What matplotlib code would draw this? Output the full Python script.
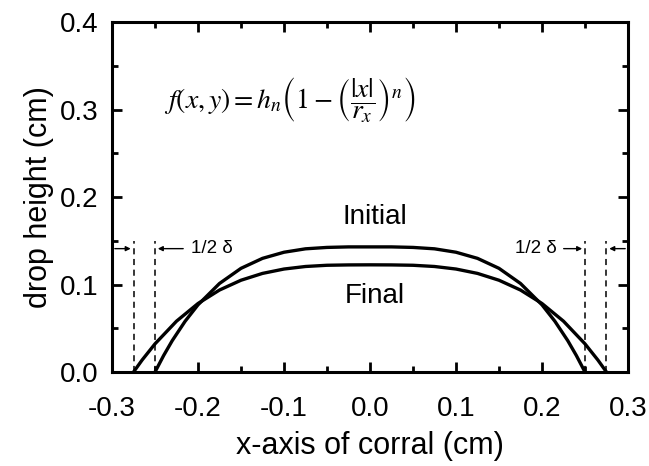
import matplotlib
matplotlib.use('Agg')
import matplotlib.pyplot as plt
from matplotlib.ticker import MultipleLocator

plt.rcParams['font.family'] = ['Liberation Sans', 'DejaVu Sans']
plt.rcParams['mathtext.fontset'] = 'stix'

# curve points (cm)
x_init = [-0.25, -0.24, -0.23, -0.215, -0.2, -0.175, -0.15, -0.125, -0.1, -0.075, -0.05, -0.025,
          0.0, 0.025, 0.05, 0.075, 0.1, 0.125, 0.15, 0.175, 0.2, 0.215, 0.23, 0.24, 0.25]
y_init = [0.0, 0.0188, 0.0358, 0.058, 0.0768, 0.1012, 0.1185, 0.1299, 0.1369, 0.1408, 0.1424, 0.143,
          0.143, 0.143, 0.1424, 0.1408, 0.1369, 0.1299, 0.1185, 0.1012, 0.0768, 0.058, 0.0358, 0.0188, 0.0]

x_final = [-0.275, -0.265, -0.25, -0.225, -0.2, -0.175, -0.15, -0.125, -0.1, -0.075, -0.05, -0.025,
           0.0, 0.025, 0.05, 0.075, 0.1, 0.125, 0.15, 0.175, 0.2, 0.225, 0.25, 0.265, 0.275]
y_final = [0.0, 0.0137, 0.0322, 0.0581, 0.0783, 0.0937, 0.1049, 0.1127, 0.1177, 0.1206, 0.122, 0.1224,
           0.1225, 0.1224, 0.122, 0.1206, 0.1177, 0.1127, 0.1049, 0.0937, 0.0783, 0.0581, 0.0322, 0.0137, 0.0]

edges_init = [-0.25, 0.25]
edges_final = [-0.275, 0.275]
dash_top = 0.15
arrow_y = 0.141

fig = plt.figure(figsize=(6.49, 4.66), dpi=100)
ax = fig.add_axes([0.1726, 0.2017, 0.795, 0.751])

ax.plot(x_init, y_init, color='black', lw=2.4)
ax.plot(x_final, y_final, color='black', lw=2.4)

for xe in edges_init + edges_final:
    ax.plot([xe, xe], [0, dash_top], color='black', lw=1.1, ls=(0, (4, 3)))

arr = dict(arrowstyle='-|>', color='black', lw=1.0, mutation_scale=7)
# left side
ax.annotate('', xy=(edges_final[0], arrow_y), xytext=(-0.3, arrow_y), arrowprops=arr)
ax.annotate('', xy=(edges_init[0], arrow_y), xytext=(-0.214, arrow_y), arrowprops=arr)
ax.text(-0.208, arrow_y, '1/2 \u03b4', fontsize=13.5, va='center', ha='left')
# right side
ax.annotate('', xy=(edges_init[1], arrow_y), xytext=(0.222, arrow_y), arrowprops=arr)
ax.text(0.217, arrow_y, '1/2 \u03b4', fontsize=13.5, va='center', ha='right')
ax.annotate('', xy=(edges_final[1], arrow_y), xytext=(0.3, arrow_y), arrowprops=arr)

ax.text(0.006, 0.177, 'Initial', fontsize=20, ha='center', va='center')
ax.text(0.006, 0.087, 'Final', fontsize=20, ha='center', va='center')

ax.text(-0.24, 0.311,
        r'$f\left(x,y\right)=h_n\left(1-\left(\dfrac{|x|}{r_x}\right)^n\right)$',
        fontsize=20, ha='left', va='center')

ax.set_xlim(-0.3, 0.3)
ax.set_ylim(0, 0.4)
ax.xaxis.set_major_locator(MultipleLocator(0.1))
ax.xaxis.set_minor_locator(MultipleLocator(0.05))
ax.yaxis.set_major_locator(MultipleLocator(0.1))
ax.yaxis.set_minor_locator(MultipleLocator(0.05))
ax.set_xticklabels([f'{v:.1f}' for v in ax.get_xticks()])
ax.set_yticklabels([f'{v:.1f}' for v in ax.get_yticks()])
ax.tick_params(which='both', direction='in', top=True, right=True, width=2)
ax.tick_params(which='major', length=7, labelsize=20)
ax.tick_params(axis='x', which='major', pad=17)
ax.tick_params(axis='y', which='major', pad=10)
ax.tick_params(which='minor', length=4)
for s in ax.spines.values():
    s.set_linewidth(2.2)

ax.set_xlabel('x-axis of corral (cm)', fontsize=22, labelpad=7)
ax.set_ylabel('drop height (cm)', fontsize=22, labelpad=4)

fig.savefig('out.png', dpi=100)
